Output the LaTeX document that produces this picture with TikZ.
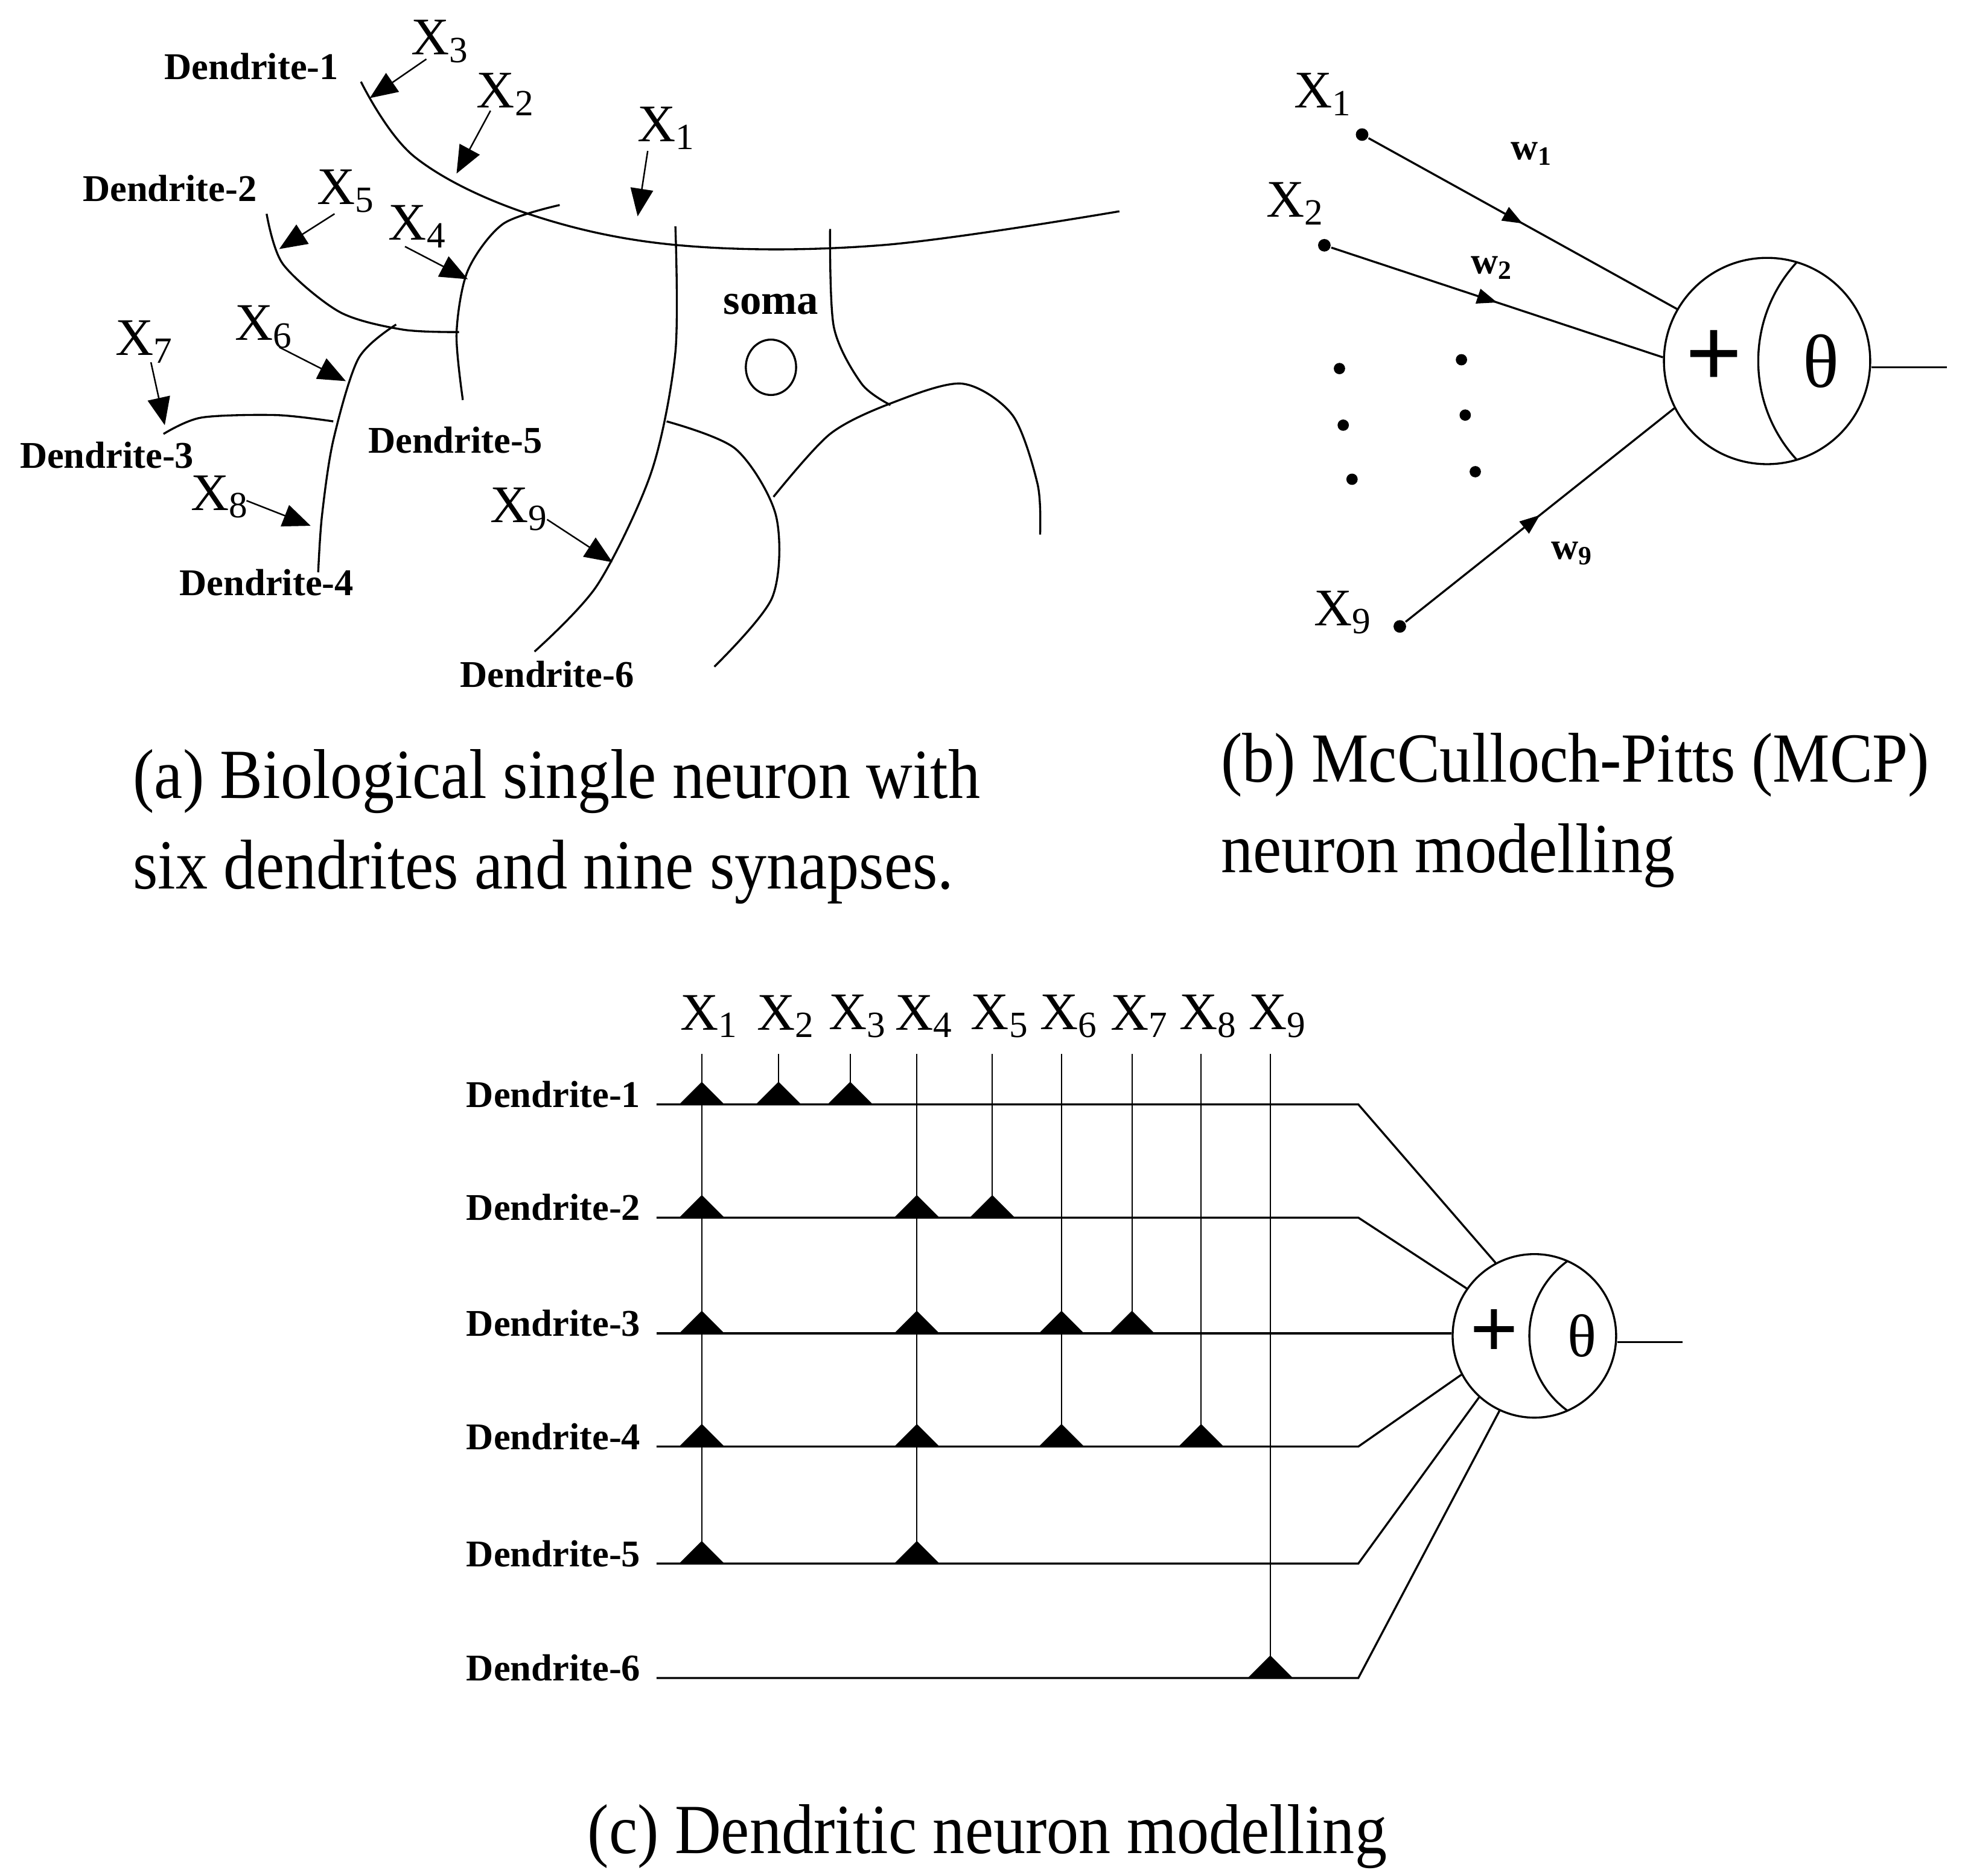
\documentclass[tikz,border=0pt]{standalone}
\usepackage{fontspec}
\setmainfont{Liberation Serif}
\usetikzlibrary{arrows.meta,decorations.markings,shapes.geometric}
\begin{document}
\begin{tikzpicture}[x=0.5pt,y=-0.5pt,line width=0.8pt,
  lbl/.style={font=\fontsize{15}{17}\selectfont\bfseries,inner sep=1pt},
  xl/.style={font=\fontsize{21}{22}\selectfont,inner sep=1pt},
  captxt/.style={font=\fontsize{28}{36}\selectfont,align=left,inner sep=0pt},
  syn/.style={-{Triangle[width=9pt,length=11pt]},line width=0.6pt},
  tri/.pic={\fill (-18,0)--(18,0)--(0,-18)--cycle;},
  mid/.style={postaction={decorate},decoration={markings,mark=at position #1 with {\arrow{Triangle[width=6pt,length=8pt]}}}},
  dot/.style={circle,fill,inner sep=0pt,minimum size=5pt}]
\useasboundingbox (0,0) rectangle (1560,1491);
% ---------- panel (a)
\draw plot[smooth,tension=0.6] coordinates {(287,65) (330,125) (420,170) (540,195) (700,195) (890,168)};
\draw plot[smooth] coordinates {(212,170) (225,210) (270,248) (320,262) (365,264)};
\draw plot[smooth] coordinates {(445,163) (400,178) (372,215) (363,265) (368,318)};
\draw plot[smooth] coordinates {(315,258) (285,285) (265,350) (256,410) (253,455)};
\draw plot[smooth] coordinates {(130,345) (160,332) (220,330) (265,335)};
\draw plot[smooth] coordinates {(537,180) (537,280) (518,375) (475,465) (425,518)};
\draw plot[smooth] coordinates {(660,182) (663,260) (685,305) (708,322)};
\draw plot[smooth] coordinates {(530,335) (585,357) (617,410) (614,475) (568,530)};
\draw plot[smooth] coordinates {(615,395) (660,345) (710,320) (765,305) (805,330) (825,385) (827,425)};
\node[ellipse,draw,minimum width=20pt,minimum height=22pt,inner sep=0pt] (soma) at (613,292) {};
\node[font=\fontsize{17}{19}\selectfont\bfseries] (somal) at (613,242) {soma};
\node[lbl] (d1) at (200,53) {Dendrite-1};
\node[lbl] (d2) at (135,150) {Dendrite-2};
\node[lbl] (d3) at (85,362) {Dendrite-3};
\node[lbl] (d4) at (212,463) {Dendrite-4};
\node[lbl] (d5) at (362,350) {Dendrite-5};
\node[lbl] (d6) at (435,536) {Dendrite-6};
\node[xl] (a3) at (350,33) {X\textsubscript{3}};
\node[xl] (a2) at (402,75) {X\textsubscript{2}};
\node[xl] (a1) at (530,102) {X\textsubscript{1}};
\node[xl] (a5) at (275,152) {X\textsubscript{5}};
\node[xl] (a4) at (332,180) {X\textsubscript{4}};
\node[xl] (a6) at (210,260) {X\textsubscript{6}};
\node[xl] (a7) at (115,272) {X\textsubscript{7}};
\node[xl] (a8) at (175,395) {X\textsubscript{8}};
\node[xl] (a9) at (413,405) {X\textsubscript{9}};
\coordinate (t3) at (294,78); \coordinate (t2) at (363,138); \coordinate (t1) at (507,172);
\coordinate (t5) at (222,198); \coordinate (t4) at (372,222); \coordinate (t6) at (275,303);
\coordinate (t7) at (131,338); \coordinate (t8) at (247,418); \coordinate (t9) at (487,447);
\draw[syn] (339,47) -- (t3);
\draw[syn] (390,88) -- (t2);
\draw[syn] (515,120) -- (t1);
\draw[syn] (266,170) -- (t5);
\draw[syn] (322,196) -- (t4);
\draw[syn] (222,276) -- (t6);
\draw[syn] (120,288) -- (t7);
\draw[syn] (196,398) -- (t8);
\draw[syn] (435,413) -- (t9);
\node[captxt,anchor=north west] (capa) at (105,595) {\scalebox{0.91}[1]{(a) Biological single neuron with}\\\scalebox{0.91}[1]{six dendrites and nine synapses.}};
% ---------- panel (b)
\node[circle,draw,minimum size=82pt,inner sep=0pt] (nb) at (1405,287) {};
\begin{scope}
\clip (1405,287) circle (82);
\draw (1514,287) circle (116);
\end{scope}
\node[font=\fontsize{40}{40}\selectfont\bfseries] (plb) at (1363,285) {+};
\node[font=\fontsize{30}{30}\selectfont] (thb) at (1448,287) {θ};
\coordinate (ob) at (1548,292);
\draw (nb.east |- ob) -- (ob);
\node[dot] (p1) at (1083,107) {};
\node[dot] (p2) at (1053,195) {};
\node[dot] (p9) at (1113,498) {};
\node[xl] (b1) at (1052,75) {X\textsubscript{1}};
\node[xl] (b2) at (1030,162) {X\textsubscript{2}};
\node[xl] (b9) at (1068,487) {X\textsubscript{9}};
\draw[mid=0.5] (p1) -- (nb.150);
\draw[mid=0.5] (p2) -- (nb.178);
\draw[mid=0.5] (p9) -- (nb.207);
\node[font=\fontsize{15}{17}\selectfont\bfseries] (w1) at (1218,122) {w\textsubscript{1}};
\node[font=\fontsize{15}{17}\selectfont\bfseries] (w2) at (1186,213) {w\textsubscript{2}};
\node[font=\fontsize{15}{17}\selectfont\bfseries] (w9) at (1250,440) {w\textsubscript{9}};
\foreach \i/\p in {1/{(1065,293)},2/{(1068,338)},3/{(1075,381)},4/{(1162,286)},5/{(1165,330)},6/{(1173,375)}}
  \node[dot,minimum size=4.5pt] (e\i) at \p {};
\node[captxt,anchor=north west] (capb) at (970,582) {\scalebox{0.91}[1]{(b) McCulloch-Pitts (MCP)}\\\scalebox{0.91}[1]{neuron modelling}};
% ---------- panel (c)
\node[circle,draw,minimum size=65pt,inner sep=0pt] (nc) at (1220,1062) {};
\begin{scope}
\clip (1220,1062) circle (65);
\draw (1289.5,1062) circle (73.5);
\end{scope}
\node[font=\fontsize{34}{34}\selectfont\bfseries] (plc) at (1188,1060) {+};
\node[font=\fontsize{24}{24}\selectfont] (thc) at (1258,1062) {θ};
\coordinate (oc) at (1338,1067);
\draw (nc.east |- oc) -- (oc);
\foreach \r/\y in {1/878,2/968,3/1060,4/1150,5/1243,6/1334}{
  \node[lbl,anchor=east] (D\r) at (512,\y-8) {Dendrite-\r};
  \coordinate (s\r) at (522,\y);
  \coordinate (k\r) at (1080,\y);
}
\draw (s1) -- (k1) -- (nc.118);
\draw (s2) -- (k2) -- (nc.145);
\draw (s3) -- (nc.west |- s3);
\draw (s4) -- (k4) -- (nc.208);
\draw (s5) -- (k5) -- (nc.228);
\draw (s6) -- (k6) -- (nc.245);
\foreach \c/\x/\b in {1/558/1243,2/619/878,3/676/878,4/729/1243,5/789/968,6/844/1150,7/900/1060,8/955/1150,9/1010/1334}{
  \node[xl] (X\c) at (\x+6,808) {X\textsubscript{\c}};
  \coordinate (top\c) at (\x,838);
  \coordinate (bot\c) at (\x,\b);
  \draw[line width=0.5pt] (top\c) -- (bot\c);
}
\foreach \x/\y in {558/878,619/878,676/878,558/968,729/968,789/968,558/1060,729/1060,844/1060,900/1060,558/1150,729/1150,844/1150,955/1150,558/1243,729/1243,1010/1334}
  \pic at (\x,\y) {tri};
\node[captxt] (capc) at (785,1460) {\scalebox{0.91}[1]{(c) Dendritic neuron modelling}};
\end{tikzpicture}
\end{document}
